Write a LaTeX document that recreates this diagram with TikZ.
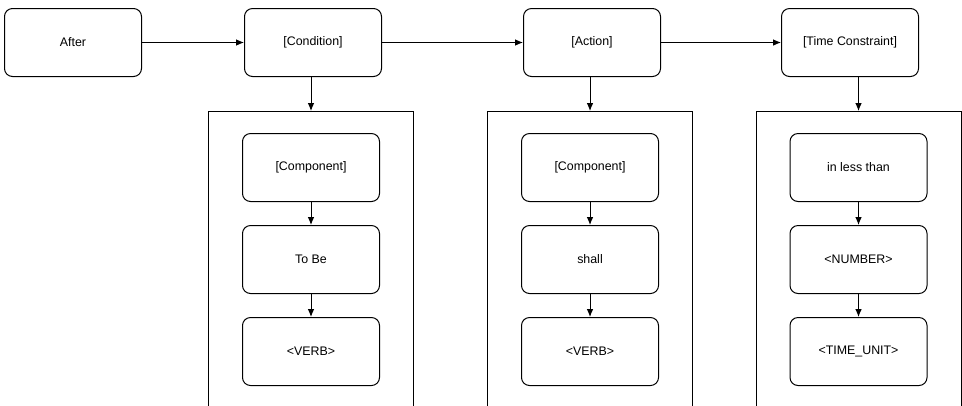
\documentclass[tikz,border=0pt]{standalone}
\usepackage{fontspec}
\setmainfont{Liberation Sans}
\usetikzlibrary{positioning, arrows.meta}

\begin{document}
\begin{tikzpicture}[x=0.75pt,y=-0.75pt, line width=0.75pt]
		\tikzset{node distance=17.25pt and 76.5pt,
			box/.style={rectangle, draw, rounded corners=6pt, fill=white, align=center,
			minimum width=102.75pt, minimum height=51pt, font=\fontsize{9.3}{11}\selectfont},
			frame/.style={rectangle, draw, anchor=north, minimum width=153.75pt,
			minimum height=225pt},
			>={Latex[length=6pt,width=5pt]},
		}
		\useasboundingbox (0,0) rectangle (962,405);
		\clip (0,0) rectangle (962,405);

		\node[box](after) at (73,42.5){After};
		\node[box, right=of after](cond){[Condition]};
		\node[box, right=105.75pt of cond](act){[Action]};
		\node[box, right=90pt of act](time){[Time Constraint]};

		\node[frame](condframe) at (311,111){};
		\node[frame](actframe) at (590,111){};
		\node[frame](timeframe) at (858.5,111){};

		\node[box, below=16.5pt of condframe.north](comp1){[Component]};
		\node[box, below=of comp1](tobe){To Be};
		\node[box, below=of tobe](verb1){<VERB>};

		\node[box, below=16.5pt of actframe.north](comp2){[Component]};
		\node[box, below=of comp2](shall){shall};
		\node[box, below=of shall](verb2){<VERB>};

		\node[box, below=16.5pt of timeframe.north](less){in less than};
		\node[box, below=of less](number){<NUMBER>};
		\node[box, below=of number](unit){<TIME\_UNIT>};

		\draw[->](after) -- (cond);
		\draw[->](cond) -- (act);
		\draw[->](act) -- (time);

		\draw[->](condframe.north |- cond.south) -- (condframe.north);
		\draw[->](actframe.north |- act.south) -- (actframe.north);
		\draw[->](timeframe.north |- time.south) -- (timeframe.north);

		\draw[->](comp1) -- (tobe);
		\draw[->](tobe) -- (verb1);
		\draw[->](comp2) -- (shall);
		\draw[->](shall) -- (verb2);
		\draw[->](less) -- (number);
		\draw[->](number) -- (unit);

	\end{tikzpicture}
\end{document}
